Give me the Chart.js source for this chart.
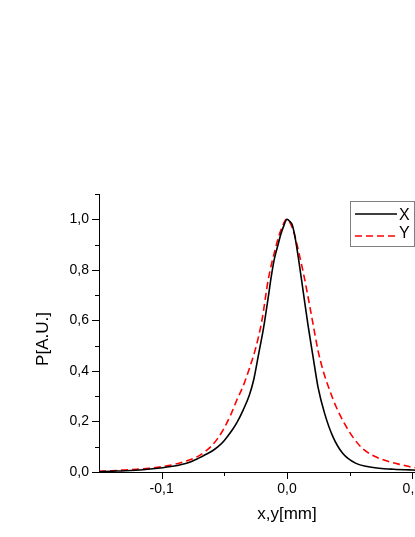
<!DOCTYPE html>
<html>
<head>
<meta charset="utf-8">
<script src="https://cdn.jsdelivr.net/npm/chart.js@4"></script>
<style>
  html, body { margin: 0; padding: 0; background: #fff; overflow: hidden; }
  #wrap { position: relative; width: 484px; height: 537px; }
</style>
</head>
<body>
<div id="wrap"><canvas id="c"></canvas></div>
<script>
// ---- data ----
const seriesNames = ['X', 'Y'];
const xPosX = [-0.15, -0.14, -0.129, -0.115, -0.103, -0.09, -0.085, -0.0766, -0.07, -0.066, -0.06, -0.055, -0.05, -0.0437, -0.04, -0.035, -0.03, -0.0266, -0.0225, -0.0187, -0.015, -0.0126, -0.01, -0.0069, -0.005, -0.0025, 0, 0.0025, 0.004, 0.006, 0.009, 0.0129, 0.0168, 0.0208, 0.0247, 0.030, 0.0366, 0.0444, 0.055, 0.065, 0.0734, 0.085, 0.0997, 0.12, 0.14, 0.15];
const valX  = [0.001, 0.003, 0.005, 0.009, 0.015, 0.024, 0.029, 0.041, 0.056, 0.066, 0.082, 0.100, 0.125, 0.166, 0.195, 0.245, 0.305, 0.364, 0.47, 0.57, 0.69, 0.772, 0.845, 0.904, 0.94, 0.975, 1.0, 0.99, 0.98, 0.94, 0.85, 0.715, 0.58, 0.456, 0.337, 0.232, 0.140, 0.074, 0.034, 0.021, 0.015, 0.011, 0.008, 0.005, 0.003, 0.002];
const xPosY = [-0.15, -0.14, -0.13, -0.12, -0.11, -0.10, -0.09, -0.08, -0.075, -0.07, -0.065, -0.06, -0.055, -0.05, -0.045, -0.04, -0.035, -0.03, -0.025, -0.02, -0.015, -0.01, -0.005, 0, 0.005, 0.0103, 0.0142, 0.0182, 0.0208, 0.0247, 0.0287, 0.034, 0.0392, 0.0458, 0.0523, 0.0602, 0.0708, 0.0813, 0.0918, 0.0997, 0.11, 0.12, 0.13, 0.14, 0.15];
const valY  = [0.003, 0.005, 0.008, 0.011, 0.015, 0.021, 0.030, 0.044, 0.053, 0.065, 0.082, 0.104, 0.135, 0.175, 0.225, 0.285, 0.34, 0.41, 0.49, 0.60, 0.76, 0.87, 0.955, 1.0, 0.955, 0.85, 0.76, 0.655, 0.585, 0.482, 0.403, 0.324, 0.258, 0.192, 0.140, 0.093, 0.060, 0.041, 0.028, 0.019, 0.014, 0.010, 0.008, 0.006, 0.004];
const xTickLabels = ['-0,1', '0,0', '0,1'];
const yTickLabels = ['0,0', '0,2', '0,4', '0,6', '0,8', '1,0'];
const xTitle = 'x,y[mm]';
const yTitle = 'P[A.U.]';

const FONT = "'Liberation Sans', Arial, sans-serif";

const minorTicks = {
  id: 'minorTicks',
  afterDraw(chart) {
    const ctx = chart.ctx;
    ctx.save();
    ctx.strokeStyle = '#000';
    ctx.lineWidth = 1;
    const ys = chart.scales.y, xs = chart.scales.x;
    ys.ticks.forEach(t => {
      const py = Math.round(ys.getPixelForValue(t.value)) + 0.5;
      const major = Math.abs(Math.round(t.value * 10) % 2) === 0;
      const len = major ? 7 : 4;
      ctx.beginPath();
      ctx.moveTo(ys.right - len, py);
      ctx.lineTo(ys.right, py);
      ctx.stroke();
    });
    xs.ticks.forEach(t => {
      const px = Math.round(xs.getPixelForValue(t.value)) + 0.5;
      if (px <= xs.left + 1) return;
      const major = Math.abs(Math.round(t.value * 100) % 10) === 0;
      const len = major ? 7 : 4;
      ctx.beginPath();
      ctx.moveTo(px, xs.top);
      ctx.lineTo(px, xs.top + len);
      ctx.stroke();
    });
    // y axis title
    ctx.fillStyle = '#000';
    ctx.font = '17px ' + FONT;
    ctx.textAlign = 'center';
    ctx.textBaseline = 'middle';
    ctx.translate(43.2, 339);
    ctx.rotate(-Math.PI / 2);
    ctx.fillText(yTitle, 0, 0);
    ctx.restore();
  }
};

const boxLegend = {
  id: 'boxLegend',
  afterDraw(chart) {
    const ctx = chart.ctx;
    ctx.save();
    ctx.strokeStyle = '#808080';
    ctx.lineWidth = 1;
    ctx.strokeRect(350.5, 201.5, 64, 45);
    const rows = [214, 236];
    const textY = [215.5, 233.5];
    chart.data.datasets.forEach((ds, i) => {
      ctx.strokeStyle = ds.borderColor;
      ctx.lineWidth = ds.borderWidth;
      ctx.setLineDash(ds.borderDash || []);
      ctx.beginPath();
      ctx.moveTo(355, rows[i]);
      ctx.lineTo(397, rows[i]);
      ctx.stroke();
      ctx.setLineDash([]);
      ctx.fillStyle = '#000';
      ctx.font = '16px ' + FONT;
      ctx.textBaseline = 'middle';
      ctx.textAlign = 'left';
      ctx.fillText(ds.label, 399, textY[i]);
    });
    ctx.restore();
  }
};

new Chart(document.getElementById('c'), {
  type: 'line',
  data: {
    datasets: [
      {
        label: seriesNames[0],
        data: xPosX.map((x, i) => ({ x: x, y: valX[i] })),
        borderColor: '#000000',
        borderWidth: 1.6,
        pointRadius: 0,
        cubicInterpolationMode: 'monotone',
        fill: false
      },
      {
        label: seriesNames[1],
        data: xPosY.map((x, i) => ({ x: x, y: valY[i] })),
        borderColor: '#ff0000',
        borderWidth: 1.6,
        borderDash: [7, 4],
        pointRadius: 0,
        cubicInterpolationMode: 'monotone',
        fill: false
      }
    ]
  },
  options: {
    responsive: true,
    maintainAspectRatio: false,
    animation: false,
    layout: { autoPadding: false, padding: { left: 0, top: 194, right: 0, bottom: 0 } },
    plugins: { legend: { display: false }, tooltip: { enabled: false } },
    scales: {
      x: {
        type: 'linear',
        min: -0.15,
        max: 0.15,
        afterFit(s) { s.height = 65; },
        grid: { display: true, drawOnChartArea: false, drawTicks: false },
        border: { display: true, color: '#000', width: 1 },
        ticks: {
          stepSize: 0.05,
          padding: 9,
          maxRotation: 0,
          autoSkip: false,
          color: '#000',
          font: { family: FONT, size: 14 },
          callback(v) {
            const k = Math.round(v * 100);
            if (k % 10 !== 0) return '';
            return xTickLabels[(k / 10) + 1];
          }
        },
        title: {
          display: true,
          text: xTitle,
          color: '#000',
          font: { family: FONT, size: 17 },
          padding: { top: 0, bottom: 12 }
        }
      },
      y: {
        min: 0,
        max: 1.1,
        afterFit(s) { s.width = 99; },
        grid: { display: true, drawOnChartArea: false, drawTicks: false },
        border: { display: true, color: '#000', width: 1 },
        ticks: {
          stepSize: 0.1,
          padding: 10,
          autoSkip: false,
          color: '#000',
          font: { family: FONT, size: 14 },
          callback(v) {
            const k = Math.round(v * 10);
            if (k % 2 !== 0) return '';
            return yTickLabels[k / 2];
          }
        },
        title: { display: false }
      }
    }
  },
  plugins: [minorTicks, boxLegend]
});
</script>
</body>
</html>
